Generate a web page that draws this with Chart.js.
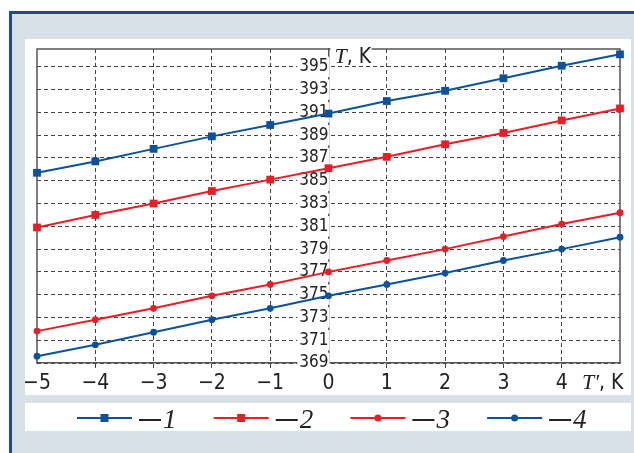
<!DOCTYPE html>
<html>
<head>
<meta charset="utf-8">
<script src="https://cdn.jsdelivr.net/npm/chart.js@4.4.0/dist/chart.umd.min.js"></script>
<style>
  body { margin: 0; background: #fff; }
  canvas { display: block; }
</style>
</head>
<body>
<canvas id="tempChart" width="634" height="453"></canvas>
<script>
// T' values (x axis) and T values for each curve
const tPrime = [-5, -4, -3, -2, -1, 0, 1, 2, 3, 4, 5];
const curve1 = [385.7, 386.7, 387.8, 388.9, 389.9, 390.9, 392.0, 392.9, 394.0, 395.1, 396.1];
const curve2 = [380.9, 382.0, 383.0, 384.1, 385.1, 386.1, 387.1, 388.2, 389.2, 390.3, 391.35];
const curve3 = [371.8, 372.8, 373.8, 374.9, 375.9, 377.0, 378.0, 379.0, 380.1, 381.2, 382.2];
const curve4 = [369.6, 370.6, 371.7, 372.8, 373.8, 374.9, 375.9, 376.9, 378.0, 379.0, 380.05];
const yTicks = [369, 371, 373, 375, 377, 379, 381, 383, 385, 387, 389, 391, 393, 395];
const curveLabels = ['1', '2', '3', '4'];

const BLUE = '#0a52a0';
const RED = '#ec1c24';
const NARROW = "'Liberation Sans Narrow', 'DejaVu Sans Condensed', 'Liberation Sans', sans-serif";
const SERIF = "'Liberation Serif', 'DejaVu Serif', serif";

const toPoints = vals => tPrime.map((x, i) => ({ x: x, y: vals[i] }));

function makeSet(label, vals, color, style, radius) {
    return {
        label: label,
        data: toPoints(vals),
        borderColor: color,
        backgroundColor: color,
        borderWidth: 2,
        pointStyle: style,
        pointRadius: radius,
        pointHoverRadius: radius,
        pointBorderWidth: 0,
        clip: false
    };
}

// background panels, frame, axis titles and the legend row
const decorPlugin = {
    id: 'decor',
    beforeDraw(chart) {
        const c = chart.ctx;
        c.save();
        c.fillStyle = '#fff';
        c.fillRect(0, 0, chart.width, chart.height);
        c.fillStyle = '#d8e0e8';
        c.fillRect(12, 14, chart.width - 12, chart.height - 14);
        c.fillStyle = '#16508f';
        c.fillRect(9, 11, 3, chart.height - 11);
        c.fillRect(9, 11, chart.width - 9, 3);
        c.fillStyle = '#fff';
        c.fillRect(25, 39, 606, 356);
        c.fillRect(25, 403, 606, 28);
        c.restore();
    },
    beforeDatasetsDraw(chart) {
        const a = chart.chartArea;
        const c = chart.ctx;
        c.save();
        c.strokeStyle = '#555';
        c.lineWidth = 1.5;
        c.beginPath();
        c.moveTo(a.left, a.bottom);
        c.lineTo(a.left, a.top);
        c.lineTo(a.right, a.top);
        c.lineTo(a.right, a.bottom);
        c.stroke();

        // y axis title on the top frame line
        const x0 = chart.scales.x.getPixelForValue(0);
        c.fillStyle = '#fff';
        c.fillRect(x0 + 2, a.top - 5, 41, 16);
        c.fillStyle = '#222';
        c.textBaseline = 'alphabetic';
        c.font = 'italic 22px ' + SERIF;
        c.fillText('T', x0 + 6, a.top + 14);
        let w = c.measureText('T').width;
        c.font = '21px ' + NARROW;
        c.fillText(', K', x0 + 6 + w, a.top + 14);
        c.restore();
    },
    afterDraw(chart) {
        const a = chart.chartArea;
        const c = chart.ctx;
        c.save();
        // x axis title
        c.fillStyle = '#222';
        c.textBaseline = 'alphabetic';
        c.font = 'italic 22px ' + SERIF;
        const tx = 582, ty = a.bottom + 26;
        c.fillText('T\u2032', tx, ty);
        let w = c.measureText('T\u2032').width;
        c.font = '21px ' + NARROW;
        c.fillText(', K', tx + w, ty);

        // legend
        const ly = 418;
        chart.data.datasets.forEach((ds, i) => {
            const lx = 77 + i * 136.7;
            c.strokeStyle = ds.borderColor;
            c.lineWidth = 2;
            c.beginPath();
            c.moveTo(lx, ly);
            c.lineTo(lx + 55, ly);
            c.stroke();
            c.fillStyle = ds.backgroundColor;
            if (ds.pointStyle === 'rect') {
                c.fillRect(lx + 27.5 - 4, ly - 4, 8, 8);
            } else {
                c.beginPath();
                c.arc(lx + 27.5, ly, 3.5, 0, Math.PI * 2);
                c.fill();
            }
            c.fillStyle = '#222';
            c.fillRect(lx + 62, ly + 1, 22, 2);
            c.font = 'italic 27px ' + SERIF;
            c.fillText(ds.label, lx + 86, ly + 10);
        });
        c.restore();
    }
};

new Chart(document.getElementById('tempChart').getContext('2d'), {
    type: 'line',
    data: {
        datasets: [
            makeSet(curveLabels[0], curve1, BLUE, 'rect', 5.5),
            makeSet(curveLabels[1], curve2, RED, 'rect', 5.5),
            makeSet(curveLabels[2], curve3, RED, 'circle', 3.4),
            makeSet(curveLabels[3], curve4, BLUE, 'circle', 3.4)
        ]
    },
    options: {
        responsive: false,
        animation: false,
        devicePixelRatio: 1,
        layout: { padding: { left: 37, right: 14, top: 49, bottom: 58 } },
        plugins: { legend: { display: false }, tooltip: { enabled: false } },
        scales: {
            x: {
                type: 'linear',
                position: 'bottom',
                min: -5,
                max: 5,
                afterFit: s => { s.height = 32; },
                ticks: {
                    stepSize: 1,
                    padding: 3,
                    color: '#222',
                    font: { family: NARROW, size: 21 },
                    callback: v => v === 5 ? '' : (v < 0 ? '\u2212' + Math.abs(v) : String(v))
                },
                grid: {
                    color: ctx => (ctx.tick && [-5, 0, 5].includes(ctx.tick.value)) ? 'rgba(0,0,0,0)' : '#444',
                    lineWidth: 1,
                    tickLength: 5
                },
                border: { color: '#555', width: 1.5, dash: [4, 3] }
            },
            y: {
                type: 'linear',
                position: { x: 0 },
                min: 369,
                max: 396.57,
                afterBuildTicks: s => { s.ticks = yTicks.map(v => ({ value: v })); },
                ticks: {
                    padding: 4,
                    color: '#222',
                    font: { family: NARROW, size: 17 },
                    showLabelBackdrop: true,
                    backdropColor: '#fff',
                    backdropPadding: { left: 2, right: 1, top: 0, bottom: 0 }
                },
                grid: {
                    color: '#444',
                    lineWidth: 1,
                    tickLength: 4
                },
                border: { color: '#555', width: 1.5, dash: [4, 3] }
            }
        }
    },
    plugins: [decorPlugin]
});
</script>
</body>
</html>
